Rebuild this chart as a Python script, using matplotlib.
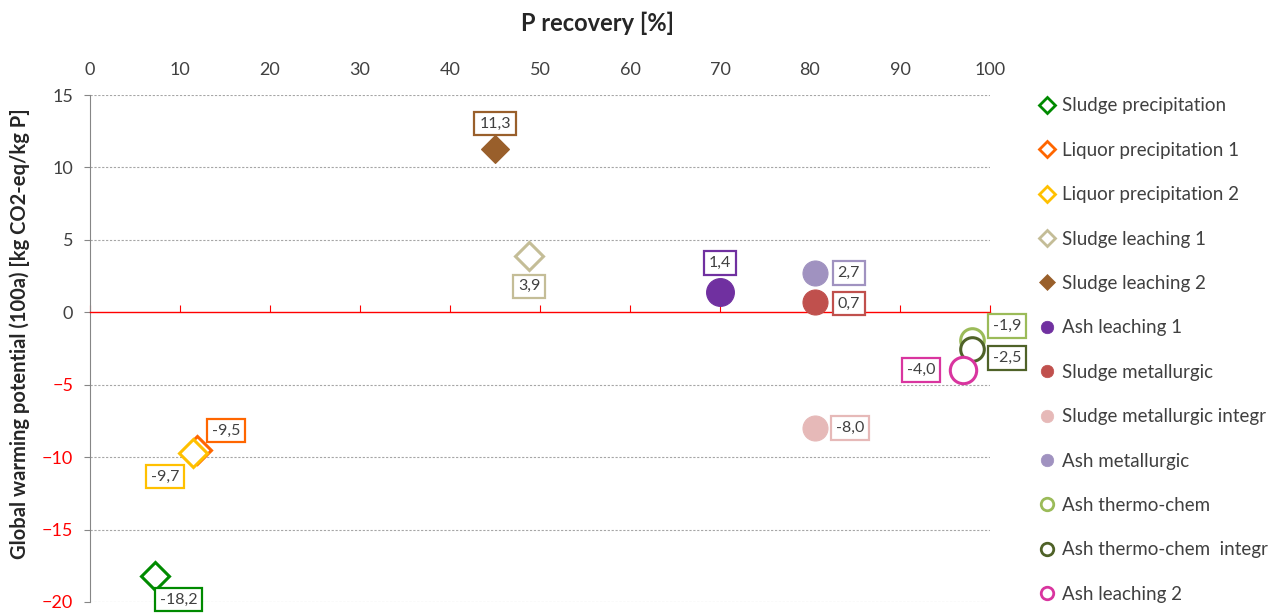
import matplotlib
matplotlib.use("Agg")
import matplotlib.pyplot as plt
from matplotlib.lines import Line2D

plt.rcParams['font.family'] = ['Lato', 'DejaVu Sans']

# ---- data ----
names = ["Sludge precipitation", "Liquor precipitation 1", "Liquor precipitation 2",
         "Sludge leaching 1", "Sludge leaching 2", "Ash leaching 1",
         "Sludge metallurgic", "Sludge metallurgic integr", "Ash metallurgic",
         "Ash thermo-chem", "Ash thermo-chem  integr", "Ash leaching 2"]
p_recovery = [7.2, 11.9, 11.4, 48.8, 45.0, 70.0, 80.6, 80.6, 80.6, 98.0, 98.0, 97.0]
gwp = [-18.2, -9.5, -9.7, 3.9, 11.3, 1.4, 0.7, -8.0, 2.7, -1.9, -2.5, -4.0]
labels = ["-18,2", "-9,5", "-9,7", "3,9", "11,3", "1,4", "0,7", "-8,0", "2,7",
          "-1,9", "-2,5", "-4,0"]
colors = ["#008A00", "#FF6600", "#FFC000", "#C4BD97", "#995F2B", "#7030A0",
          "#C0504D", "#E6B9B8", "#A092C0", "#9BBB59", "#4F6228", "#D9359F"]
markers = ["D", "D", "D", "D", "D", "o", "o", "o", "o", "o", "o", "o"]
filled = [False, False, False, False, True, True, True, True, True, False, False, False]
sizes = [14, 14, 14, 14, 14, 20, 18, 18, 18, 17, 17, 19]
offsets = [(17, -17), (21, 14), (-20, -17), (0, -22), (0, 18), (0, 21),
           (24, -1), (25, 0), (24, 0), (25, 10), (25, -7), (-30, 0)]
xticks = [0, 10, 20, 30, 40, 50, 60, 70, 80, 90, 100]
yticks = [-20, -15, -10, -5, 0, 5, 10, 15]

fig = plt.figure(figsize=(12.78, 6.13), dpi=100)
ax = fig.add_axes([90/1278, 1 - 602/613, 900/1278, 507/613])
ax.set_xlim(0, 100)
ax.set_ylim(-20, 15)

# grid
for y in yticks:
    if y != 0:
        ax.axhline(y, color="#A6A6A6", lw=0.8, ls=(0, (2, 1.5)), zorder=0)

handles = []
for i in range(len(names)):
    face = colors[i] if filled[i] else "white"
    ax.plot(p_recovery[i], gwp[i], ls="none", marker=markers[i], ms=sizes[i],
            mfc=face, mec=colors[i], mew=2.2 if not filled[i] else 0.8, zorder=5)
    ax.annotate(labels[i], (p_recovery[i], gwp[i]), xytext=offsets[i],
                textcoords="offset points", ha="center", va="center",
                fontsize=11.5, color="#404040", zorder=6,
                bbox=dict(boxstyle="square,pad=0.3", fc="white", ec=colors[i], lw=1.6))
    ms_leg = 8 if markers[i] == "D" else 9
    handles.append(Line2D([], [], ls="none", marker=markers[i], ms=ms_leg,
                          mfc=face, mec=colors[i], mew=2.0 if not filled[i] else 0.5,
                          label=names[i]))

# spines
for s in ["top", "right"]:
    ax.spines[s].set_visible(False)
ax.spines["left"].set_color("#868686")
ax.spines["bottom"].set_position(("data", 0))
ax.spines["bottom"].set_color("#FF0000")
ax.spines["bottom"].set_linewidth(1.0)

ax.set_xticks(xticks)
ax.set_yticks(yticks)
ax.tick_params(axis="x", bottom=True, top=False, labelbottom=False, labeltop=True,
               direction="in", length=5, color="#FF0000", labelsize=13,
               labelcolor="#404040", pad=12)
ax.tick_params(axis="y", direction="out", length=4, color="#868686",
               labelsize=13, labelcolor="#404040", pad=8)
for t, v in zip(ax.get_yticklabels(), yticks):
    if v < 0:
        t.set_color("#FF0000")

ax.set_xlabel("P recovery [%]", fontsize=17, fontweight="bold", color="#262626")
ax.xaxis.set_label_position("top")
ax.xaxis.set_label_coords(0.564, 1 + 64/507)
ax.set_ylabel("Global warming potential (100a) [kg CO2-eq/kg P]", fontsize=14.5,
              fontweight="bold", color="#262626")
ax.yaxis.set_label_coords(-60/900, 0.53)

fig.legend(handles=handles, loc="upper left", bbox_to_anchor=(1032/1278, 1 - 90/613),
           frameon=False, fontsize=13.5, labelspacing=1.46, handlelength=0.8,
           handletextpad=0.4, labelcolor="#404040", borderaxespad=0)

fig.savefig("out.png", dpi=100)
